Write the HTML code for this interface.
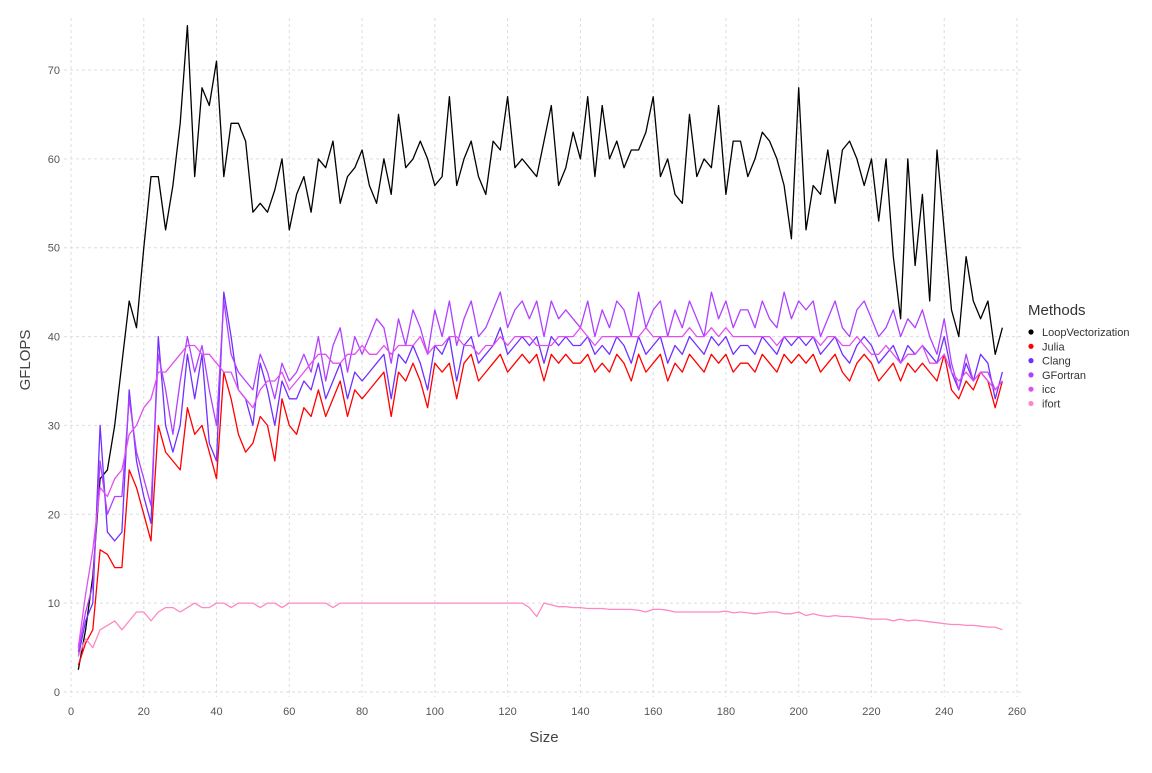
<!DOCTYPE html>
<html><head><meta charset="utf-8"><style>
body{margin:0;background:#fff;font-family:"Liberation Sans",sans-serif}
svg text{font-family:"Liberation Sans",sans-serif}
</style></head><body>
<svg id="chart" width="1152" height="768" viewBox="0 0 1152 768" xmlns="http://www.w3.org/2000/svg">
<g id="grid"></g>
<g id="axes"></g>
<g id="series"></g>
<text x="544" y="742" font-size="15" fill="#444" text-anchor="middle">Size</text>
<text x="30" y="360" font-size="15" fill="#444" text-anchor="middle" transform="rotate(-90 30 360)">GFLOPS</text>
<g id="legend"></g>
</svg>
<script>
const seriesNames=["LoopVectorization","Julia","Clang","GFortran","icc","ifort"];
const seriesColors=["#000000","#ff0000","#7030ff","#b040ff","#e050f0","#ff88c0"];
const xTicks=[0,20,40,60,80,100,120,140,160,180,200,220,240,260];
const yTicks=[0,10,20,30,40,50,60,70];
const loopVec=[2.5,7,13,24,25,30,37,44,41,50,58,58,52,57,64,75,
58,68,66,71,58,64,64,62,54,55,54,56.5,60,52,56,58,
54,60,59,62,55,58,59,61,57,55,60,56,65,59,60,62,
60,57,58,67,57,60,62,58,56,62,61,67,59,60,59,58,
62,66,57,59,63,60,67,58,66,60,62,59,61,61,63,67,
58,60,56,55,65,58,60,59,66,56,62,62,58,60,63,62,
60,57,51,68,52,57,56,61,55,61,62,60,57,60,53,60,
49,42,60,48,56,44,61,52,43,40,49,44,42,44,38,41];
const julia=[3,5.5,7,16,15.5,14,14,25,23,20,17,30,27,26,25,32,
29,30,27,24,36,33,29,27,28,31,30,26,33,30,29,32,
31,34,31,33,35,31,34,33,34,35,36,31,36,35,37,35,
32,37,36,37,33,37,38,35,36,37,38,36,37,38,37,38,
35,38,37,38,37,37,38,36,37,36,38,37,35,38,36,37,
38,35,37,36,38,37,36,38,37,38,36,37,37,36,38,37,
36,38,37,38,37,38,36,37,38,36,35,37,38,37,35,36,
37,35,37,36,37,36,35,38,34,33,35,34,36,35,32,35];
const clang=[4,8,10,30,18,17,18,34,26,22,19,40,30,27,30,38,
33,38,28,26,45,40,34,33,30,37,34,30,35,33,33,35,
34,37,33,35,37,33,36,35,36,37,38,33,38,37,39,37,
34,39,38,40,35,39,40,37,38,39,41,38,39,40,39,40,
37,40,39,40,39,39,40,38,39,38,40,39,37,40,38,39,
40,37,39,38,40,39,38,40,39,40,38,39,39,38,40,39,
38,40,39,40,39,40,38,39,40,38,37,39,40,39,37,38,
39,37,39,38,39,38,37,40,36,34,37,35,38,37,33,36];
const gfortran=[4.5,9,12,26,20,22,22,33,27,24,21,38,34,29,35,40,
36,39,34,30,44,38,36,35,34,38,36,33,37,35,36,38,
36,40,35,39,41,36,40,38,40,42,41,37,42,39,43,41,
38,43,40,44,39,42,44,40,41,43,45,41,43,44,42,44,
40,44,42,43,42,41,44,40,43,41,44,43,40,45,41,43,
44,40,43,41,44,42,40,45,42,44,41,43,43,41,44,42,
41,45,42,44,43,44,40,42,44,41,40,43,44,42,40,41,
43,40,42,41,43,40,38,42,37,34,38,35,36,36,34,35];
const icc=[5,11,16,23,22,24,25,29,30,32,33,36,36,37,38,39,
39,38,38,37,36,36,34,33,32,34,35,35,36,34,35,36,
37,38,38,37,37,38,38,39,38,38,39,38,39,39,39,40,
38,39,39,40,40,39,39,38,39,39,40,39,40,40,40,39,
39,39,40,40,40,41,40,39,40,40,40,40,40,40,41,40,
40,40,40,40,41,40,40,41,40,41,40,40,40,40,40,40,
39,40,40,40,40,40,39,40,40,39,39,40,39,38,38,39,
38,37,38,38,39,37,37,38,36,35,36,35,36,35,34,35];
const ifort=[4,6,5,7,7.5,8,7,8,9,9,8,9,9.5,9.5,9,9.5,
10,9.5,9.5,10,10,9.5,10,10,10,9.5,10,10,9.5,10,10,10,
10,10,10,9.5,10,10,10,10,10,10,10,10,10,10,10,10,
10,10,10,10,10,10,10,10,10,10,10,10,10,10,9.5,8.5,
10,9.8,9.6,9.6,9.5,9.5,9.4,9.4,9.4,9.3,9.3,9.3,9.3,9.2,9,9.3,
9.3,9.2,9,9,9,9,9,9,9,9.1,8.9,9,8.9,8.8,8.9,9,
9,8.8,8.8,9,8.6,8.8,8.6,8.5,8.6,8.5,8.5,8.4,8.3,8.2,8.2,8.2,
8.0,8.2,8.0,8.1,8.0,7.9,7.8,7.7,7.6,7.6,7.5,7.5,7.4,7.3,7.3,7.0];
const seriesData=[loopVec,julia,clang,gfortran,icc,ifort];
const sizes=loopVec.map((_,i)=>2+2*i);

const NS="http://www.w3.org/2000/svg";
const X=v=>71+(v/260)*946;
const Y=v=>692-(v/70)*622;
function mk(tag,parent){const e=document.createElementNS(NS,tag);parent.appendChild(e);return e;}
const grid=document.getElementById('grid'),axes=document.getElementById('axes');
xTicks.forEach(t=>{
  const l=mk('line',grid);
  
  
  l.setAttribute('x1',X(t));l.setAttribute('x2',X(t));l.setAttribute('y1',18);l.setAttribute('y2',697);
  l.setAttribute('stroke','#dcdce6');l.setAttribute('stroke-dasharray','3,3');
  const tx=mk('text',axes);
  
  
  tx.setAttribute('x',X(t));tx.setAttribute('y',715);tx.setAttribute('font-size','11');tx.setAttribute('fill','#555');tx.setAttribute('text-anchor','middle');
  tx.textContent=t;
});
yTicks.forEach(t=>{
  const l=mk('line',grid);
  
  
  l.setAttribute('x1',64);l.setAttribute('x2',1022);l.setAttribute('y1',Y(t));l.setAttribute('y2',Y(t));
  l.setAttribute('stroke','#dcdce6');l.setAttribute('stroke-dasharray','3,3');
  const tx=mk('text',axes);
  
  
  tx.setAttribute('x',60);tx.setAttribute('y',Y(t)+4);tx.setAttribute('font-size','11');tx.setAttribute('fill','#555');tx.setAttribute('text-anchor','end');
  tx.textContent=t;
});
const sg=document.getElementById('series');
seriesData.forEach((arr,k)=>{
  const p=mk('polyline',sg);
  
  
  p.setAttribute('points',arr.map((v,i)=>X(sizes[i]).toFixed(1)+','+Y(v).toFixed(1)).join(' '));
  p.setAttribute('fill','none');p.setAttribute('stroke',seriesColors[k]);p.setAttribute('stroke-width','1.3');p.setAttribute('stroke-linejoin','round');
});
const lg=document.getElementById('legend');
const lt=mk('text',lg);


lt.setAttribute('x',1028);lt.setAttribute('y',315);lt.setAttribute('font-size','15');lt.setAttribute('fill','#333');
lt.textContent='Methods';
seriesNames.forEach((n,k)=>{
  const y=332+k*14.3;
  const c=mk('circle',lg);
  
  
  c.setAttribute('cx',1031);c.setAttribute('cy',y);c.setAttribute('r',2.6);c.setAttribute('fill',seriesColors[k]);
  const t=mk('text',lg);
  
  
  t.setAttribute('x',1042);t.setAttribute('y',y+4);t.setAttribute('font-size','11');t.setAttribute('fill','#333');
  t.textContent=n;
});
</script>
</body></html>
